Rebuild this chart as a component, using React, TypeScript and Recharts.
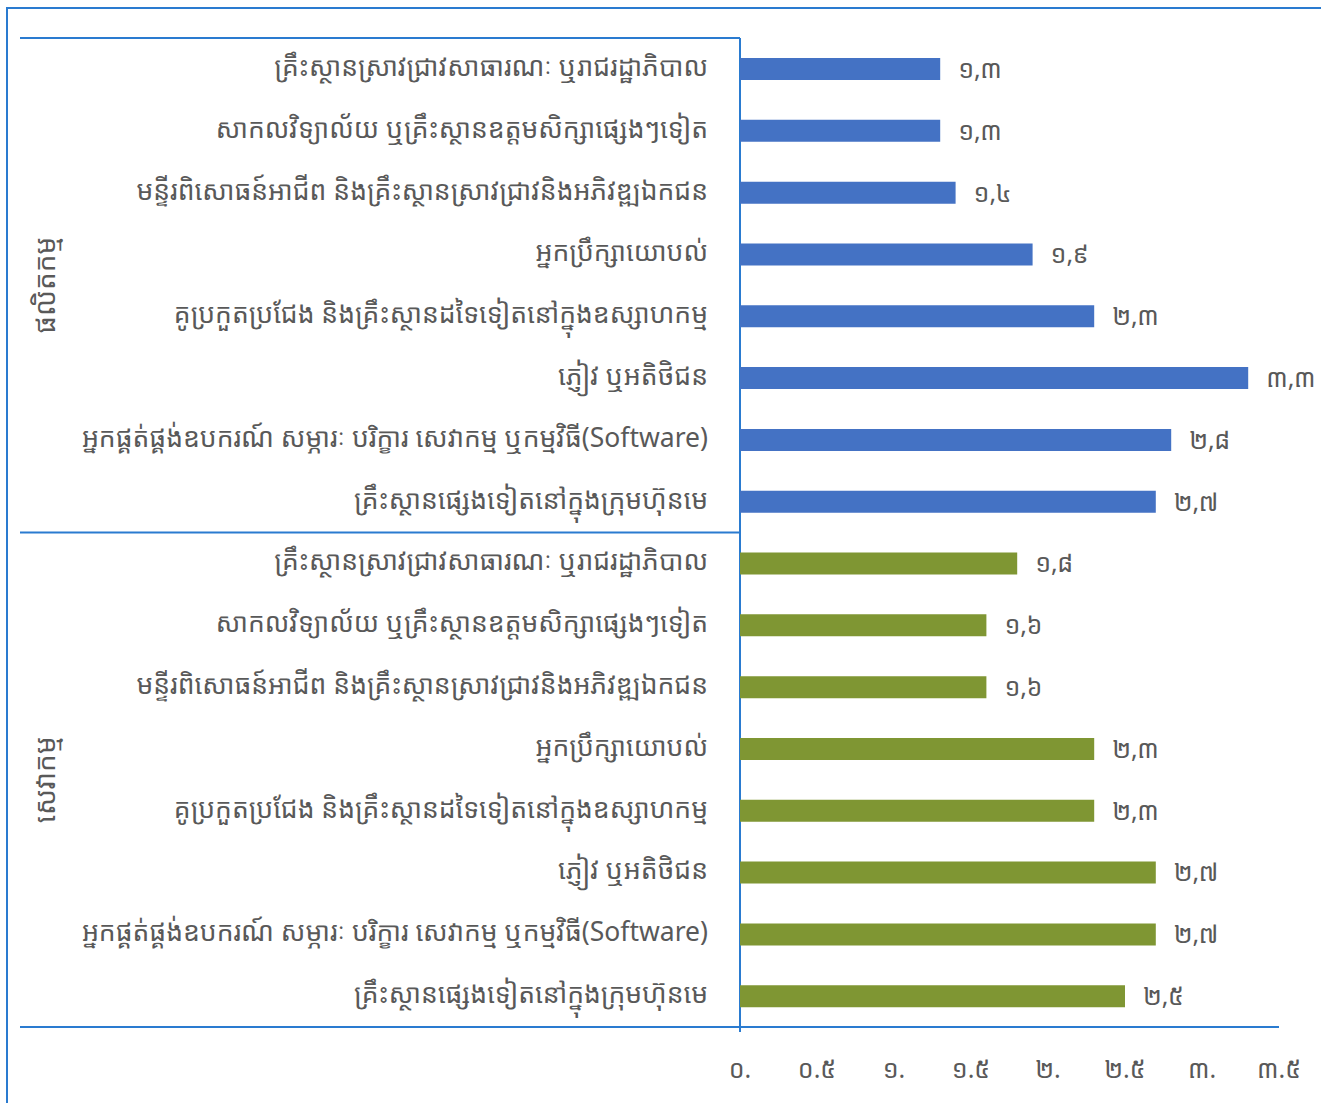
import React from "react";
import { BarChart, Bar, XAxis, YAxis, Cell, LabelList } from "recharts";

const categories = [
  "គ្រឹះស្ថានស្រាវជ្រាវសាធារណៈ ឬរាជរដ្ឋាភិបាល",
  "សាកលវិទ្យាល័យ ឬគ្រឹះស្ថានឧត្តមសិក្សាផ្សេងៗទៀត",
  "មន្ទីរពិសោធន៍អាជីព និងគ្រឹះស្ថានស្រាវជ្រាវនិងអភិវឌ្ឍឯកជន",
  "អ្នកប្រឹក្សាយោបល់",
  "គូប្រកួតប្រជែង និងគ្រឹះស្ថានដទៃទៀតនៅក្នុងឧស្សាហកម្ម",
  "ភ្ញៀវ ឬអតិថិជន ",
  "អ្នកផ្គត់ផ្គង់ឧបករណ៍ សម្ភារៈ បរិក្ខារ សេវាកម្ម ឬកម្មវិធី(Software)",
  "គ្រឹះស្ថានផ្សេងទៀតនៅក្នុងក្រុមហ៊ុនមេ",
];

const groups = ["ផលិតកម្ម", "សេវាកម្ម"];
const productionValues = [1.3, 1.3, 1.4, 1.9, 2.3, 3.3, 2.8, 2.7];
const serviceValues = [1.8, 1.6, 1.6, 2.3, 2.3, 2.7, 2.7, 2.5];
const xTicks = [0, 0.5, 1, 1.5, 2, 2.5, 3, 3.5];

const groupColors = ["#4472C4", "#7F9633"];
const lineColor = "#2A7BD0";
const textColor = "#595959";
const font = "'Noto Sans Khmer', 'Noto Sans', sans-serif";

const W = 1321;
const H = 1103;
const margin = { top: 38, right: 42, left: 20, bottom: 16 };
const yAxisWidth = 720;
const xAxisHeight = 60;

const data = [
  ...categories.map((c, i) => ({ key: `p${i}`, label: c, value: productionValues[i], group: 0 })),
  ...categories.map((c, i) => ({ key: `s${i}`, label: c, value: serviceValues[i], group: 1 })),
];

const khmerDigits = "០១២៣៤៥៦៧៨៩";
const toKhmer = (s: string) => s.replace(/[0-9]/g, (d) => khmerDigits[Number(d)]);

const fmtValue = (v: number) => toKhmer(v.toFixed(1).replace(".", ","));
const fmtTick = (v: number) => (Number.isInteger(v) ? toKhmer(`${v}.`) : toKhmer(String(v)));

const YTick = (props: any) => {
  const { x, y, payload } = props;
  const row = data.find((d) => d.key === payload.value);
  return (
    <text x={x - 24} y={y} dy={7} textAnchor="end" fill={textColor} fontSize={26.5} fontFamily={font}>
      {row ? row.label : ""}
    </text>
  );
};

const XTick = (props: any) => {
  const { x, y, payload } = props;
  return (
    <text x={x} y={y + 43} textAnchor="middle" fill={textColor} fontSize={25} fontFamily={font}>
      {fmtTick(payload.value)}
    </text>
  );
};

const plotLeft = margin.left + yAxisWidth;
const plotTop = margin.top;
const plotBottom = H - margin.bottom - xAxisHeight;
const plotRight = W - margin.right;
const plotMid = (plotTop + plotBottom) / 2;

const Frame = () => (
  <g>
    <line x1={margin.left} x2={plotLeft} y1={plotTop} y2={plotTop} stroke={lineColor} strokeWidth={2} />
    <line x1={margin.left} x2={plotLeft} y1={plotMid} y2={plotMid} stroke={lineColor} strokeWidth={2} />
    <line x1={margin.left} x2={plotRight} y1={plotBottom} y2={plotBottom} stroke={lineColor} strokeWidth={2} />
    <line x1={plotLeft} x2={plotLeft} y1={plotTop} y2={plotBottom + 5} stroke={lineColor} strokeWidth={2} />
    {groups.map((g, i) => {
      const cy = plotTop + ((plotBottom - plotTop) / 4) * (2 * i + 1);
      return (
        <text
          key={g}
          x={44}
          y={cy}
          transform={`rotate(-90 44 ${cy})`}
          textAnchor="middle"
          dominantBaseline="central"
          fill={textColor}
          fontSize={28}
          fontFamily={font}
        >
          {g}
        </text>
      );
    })}
  </g>
);

export default function App() {
  return (
    <div style={{ position: "absolute", left: 0, top: 0, width: W, height: H, overflow: "hidden", background: "#fff" }}>
      <div
        style={{
          position: "absolute",
          left: 6,
          top: 7,
          width: W + 50,
          height: H + 50,
          border: `2px solid ${lineColor}`,
        }}
      />
      <div style={{ position: "absolute", left: 0, top: 0 }}>
        <BarChart width={W} height={H} data={data} layout="vertical" margin={margin}>
          <XAxis
            type="number"
            domain={[0, 3.5]}
            ticks={xTicks}
            axisLine={false}
            tickLine={false}
            height={xAxisHeight}
            tick={<XTick />}
            interval={0}
          />
          <YAxis
            type="category"
            dataKey="key"
            width={yAxisWidth}
            axisLine={false}
            tickLine={false}
            tick={<YTick />}
            interval={0}
          />
          <Bar dataKey="value" barSize={22} isAnimationActive={false}>
            {data.map((d) => (
              <Cell key={d.key} fill={groupColors[d.group]} />
            ))}
            <LabelList
              dataKey="value"
              position="right"
              offset={18}
              formatter={(v: any) => fmtValue(Number(v))}
              fill={textColor}
              fontSize={25}
              fontFamily={font}
            />
          </Bar>
          <Frame />
        </BarChart>
      </div>
    </div>
  );
}
